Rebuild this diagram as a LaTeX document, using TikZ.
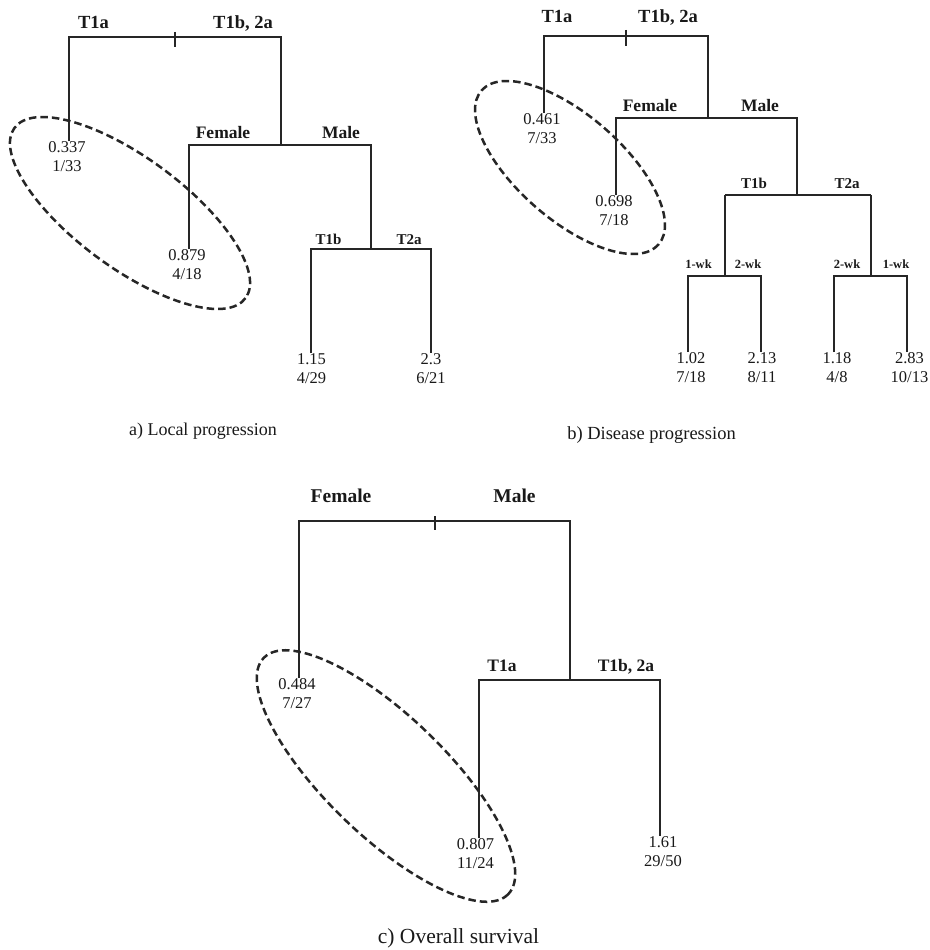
\documentclass[tikz,border=0pt]{standalone}
\usepackage{fontspec}
\setmainfont{Liberation Serif}
\begin{document}
\begin{tikzpicture}[x=1pt,y=-1pt,
  br/.style={line width=1.3pt, draw=black!85},
  oval/.style={line width=2.5pt, draw=black!85, dash pattern=on 7.5pt off 4pt},
  lab/.style={font=\fontsize{18.5}{20}\selectfont\bfseries, anchor=base, inner sep=0, text=black!90},
  mlab/.style={font=\fontsize{17.5}{20}\selectfont\bfseries, anchor=base, inner sep=0, text=black!90},
  slab/.style={font=\fontsize{15}{18}\selectfont\bfseries, anchor=base, inner sep=0, text=black!90},
  wlab/.style={font=\fontsize{12.5}{15}\selectfont\bfseries, anchor=base, inner sep=0, text=black!90},
  leaf/.style={font=\fontsize{16.5}{19}\selectfont, anchor=north, inner sep=0, align=center, text=black!90},
  captxt/.style={anchor=base, inner sep=0, text=black!90}]
\fill[white] (0,0) rectangle (929,950);
\useasboundingbox (0,0) rectangle (929,950);

% ---------------- panel a ----------------
\coordinate (aTL) at (69,37);  \coordinate (aTR) at (281,37); \coordinate (aTk) at (175,37);
\coordinate (aFL) at (189,145); \coordinate (aFR) at (371,145);
\coordinate (aSL) at (311,249); \coordinate (aSR) at (431,249);
\node[lab] (aT1a) at (93.5,29) {T1a};
\node[lab] (aT1b) at (243,29) {T1b, 2a};
\node[mlab] (aFem) at (223,138) {Female};
\node[mlab] (aMal) at (341,138) {Male};
\node[slab] (aT1bb) at (328.5,244) {T1b};
\node[slab] (aT2a) at (409,244) {T2a};
\node[leaf] (a1) at (67,141) {0.337\\1/33};
\node[leaf] (a2) at (187,249) {0.879\\4/18};
\node[leaf] (a3) at (311.5,353) {1.15\\4/29};
\node[leaf] (a4) at (431,353) {2.3\\6/21};
\draw[br] (aTL |- a1.north) -- (aTL) -- (aTR) -- (aTR |- aFL);
\draw[br] ([yshift=5pt]aTk) -- ([yshift=-10pt]aTk);
\draw[br] (aFL |- a2.north) -- (aFL) -- (aFR) -- (aFR |- aSL);
\draw[br] (aSL |- a3.north) -- (aSL) -- (aSR) -- (aSR |- a4.north);
\draw[oval, rotate around={-36.4:(130,213)}] (130,213) ellipse [x radius=143.5, y radius=55];
\node[captxt, font=\fontsize{18}{20}\selectfont] (capa) at (203,435) {a) Local progression};

% ---------------- panel b ----------------
\coordinate (bTL) at (544,36);  \coordinate (bTR) at (708,36); \coordinate (bTk) at (626,36);
\coordinate (bFL) at (616,118); \coordinate (bFR) at (797,118);
\coordinate (bSL) at (725,195); \coordinate (bSR) at (871,195);
\coordinate (bWL) at (688,276); \coordinate (bWR) at (761,276);
\coordinate (bVL) at (834,276); \coordinate (bVR) at (907,276);
\node[lab] (bT1a) at (557,23) {T1a};
\node[lab] (bT1b) at (668,23) {T1b, 2a};
\node[mlab] (bFem) at (650,111) {Female};
\node[mlab] (bMal) at (760,111) {Male};
\node[slab] (bT1bb) at (754,188) {T1b};
\node[slab] (bT2a) at (847,188) {T2a};
\node[wlab] (bw1) at (698.5,268) {1-wk};
\node[wlab] (bw2) at (748,268) {2-wk};
\node[wlab] (bw3) at (847,268) {2-wk};
\node[wlab] (bw4) at (896,268) {1-wk};
\node[leaf] (b1) at (542,113) {0.461\\7/33};
\node[leaf] (b2) at (614,195) {0.698\\7/18};
\node[leaf] (b3) at (691,352) {1.02\\7/18};
\node[leaf] (b4) at (762,352) {2.13\\8/11};
\node[leaf] (b5) at (837,352) {1.18\\4/8};
\node[leaf] (b6) at (909.5,352) {2.83\\10/13};
\draw[br] (bTL |- b1.north) -- (bTL) -- (bTR) -- (bTR |- bFL);
\draw[br] ([yshift=6pt]bTk) -- ([yshift=-10pt]bTk);
\draw[br] (bFL |- b2.north) -- (bFL) -- (bFR) -- (bFR |- bSL);
\draw[br] (bSL) -- (bSR);
\draw[br] (bSL) -- (bSL |- bWL);
\draw[br] (bSR) -- (bSR |- bVL);
\draw[br] (bWL |- b3.north) -- (bWL) -- (bWR) -- (bWR |- b4.north);
\draw[br] (bVL |- b5.north) -- (bVL) -- (bVR) -- (bVR |- b6.north);
\draw[oval, rotate around={-41:(570,167.5)}] (570,167.5) ellipse [x radius=117.3, y radius=52.3];
\node[captxt, font=\fontsize{18.5}{20}\selectfont] (capb) at (651.5,439) {b) Disease progression};

% ---------------- panel c ----------------
\coordinate (cTL) at (299,521); \coordinate (cTR) at (570,521); \coordinate (cTk) at (435,521);
\coordinate (cSL) at (479,680); \coordinate (cSR) at (660,680);
\node[lab, font=\fontsize{19.5}{22}\selectfont\bfseries] (cFem) at (341,502) {Female};
\node[lab, font=\fontsize{19.5}{22}\selectfont\bfseries] (cMal) at (514.5,502) {Male};
\node[mlab] (cT1a) at (502,671) {T1a};
\node[mlab] (cT1b) at (626,671) {T1b, 2a};
\node[leaf] (c1) at (297,678) {0.484\\7/27};
\node[leaf] (c2) at (475.5,838) {0.807\\11/24};
\node[leaf] (c3) at (663,836) {1.61\\29/50};
\draw[br] (cTL |- c1.north) -- (cTL) -- (cTR) -- (cTR |- cSL);
\draw[br] ([yshift=5pt]cTk) -- ([yshift=-9pt]cTk);
\draw[br] (cSL |- c2.north) -- (cSL) -- (cSR) -- (cSR |- c3.north);
\draw[oval, rotate around={-44:(386,776)}] (386,776) ellipse [x radius=170, y radius=60];
\node[captxt, font=\fontsize{21.5}{24}\selectfont] (capc) at (458.5,943) {c) Overall survival};
\end{tikzpicture}
\end{document}
